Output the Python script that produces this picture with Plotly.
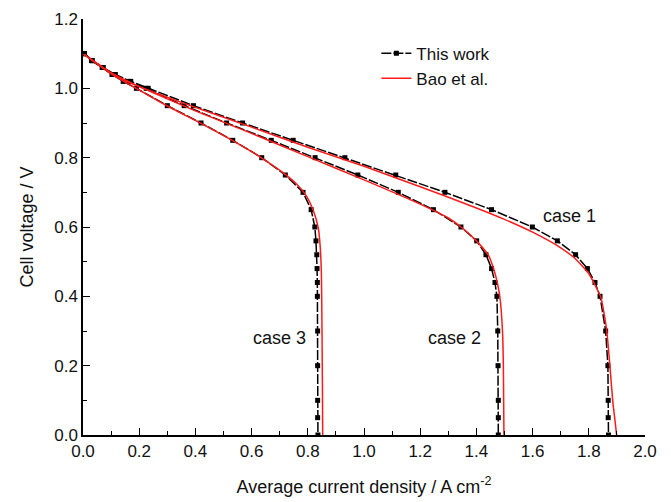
import plotly.graph_objects as go

# Cell voltage grid used for the simulated polarisation curves (V)
v_sim = [1.10, 1.08, 1.06, 1.04, 1.02, 1.00, 0.95, 0.90, 0.85, 0.80, 0.75, 0.70,
         0.65, 0.60, 0.56, 0.52, 0.48, 0.44, 0.40, 0.30, 0.20, 0.10, 0.05, 0.00]

# This work: average current density (A cm-2) at each voltage
i_case1 = [0.005, 0.033, 0.072, 0.115, 0.170, 0.232, 0.393, 0.568, 0.748, 0.932, 1.113, 1.288,
           1.454, 1.599, 1.688, 1.753, 1.795, 1.822, 1.840, 1.860, 1.868, 1.869, 1.869, 1.870]
i_case2 = [0.005, 0.032, 0.070, 0.110, 0.165, 0.225, 0.360, 0.511, 0.670, 0.826, 0.978, 1.122,
           1.247, 1.345, 1.401, 1.434, 1.454, 1.466, 1.473, 1.476, 1.477, 1.478, 1.478, 1.478]
i_case3 = [0.005, 0.030, 0.068, 0.103, 0.143, 0.190, 0.300, 0.420, 0.533, 0.636, 0.720, 0.783,
           0.812, 0.825, 0.829, 0.832, 0.833, 0.834, 0.834, 0.835, 0.835, 0.835, 0.835, 0.836]

# Bao et al. reference curves
bao1_i = [0.0, 0.1, 0.2, 0.4, 0.6, 0.8, 1.0, 1.2, 1.4, 1.5, 1.6, 1.7, 1.75, 1.8, 1.83,
          1.842, 1.85, 1.864, 1.875, 1.885, 1.892, 1.899]
bao1_v = [1.10, 1.045, 1.005, 0.945, 0.888, 0.830, 0.775, 0.716, 0.655, 0.622, 0.585, 0.540,
          0.510, 0.465, 0.420, 0.400, 0.370, 0.300, 0.200, 0.100, 0.050, 0.000]
bao2_i = [0.0, 0.1, 0.2, 0.4, 0.6, 0.8, 1.0, 1.2, 1.3, 1.35, 1.40, 1.443, 1.461, 1.475,
          1.484, 1.493, 1.496, 1.498]
bao2_v = [1.10, 1.043, 1.005, 0.935, 0.870, 0.803, 0.736, 0.666, 0.626, 0.597, 0.560, 0.518,
          0.480, 0.437, 0.396, 0.297, 0.197, 0.000]
bao3_i = [0.0, 0.1, 0.2, 0.3, 0.42, 0.533, 0.636, 0.72, 0.765, 0.795, 0.82, 0.837, 0.843,
          0.848, 0.850, 0.852, 0.853]
bao3_v = [1.10, 1.042, 0.995, 0.949, 0.899, 0.849, 0.799, 0.752, 0.720, 0.690, 0.647, 0.598,
          0.556, 0.477, 0.350, 0.150, 0.000]

case_labels = ["case 1", "case 2", "case 3"]
label_x = [1.733, 1.321, 0.699]
label_y = [0.633, 0.279, 0.279]

FONT = "Liberation Sans, Arial, sans-serif"
GREY = "#a8a8a8"
INK = "#111111"

fig = go.Figure()

sim_style = dict(mode="lines+markers",
                 line=dict(color="black", width=1.5, dash="10px,2px"),
                 marker=dict(symbol="square", size=5, color="black"))
for k, ii in enumerate([i_case1, i_case2, i_case3]):
    fig.add_trace(go.Scatter(x=ii, y=v_sim, name="This work", showlegend=(k == 0),
                             legendrank=1, **sim_style))

bao_style = dict(mode="lines", line=dict(color="#ff1a1a", width=1.5, shape="spline", smoothing=0.6))
for k, (ii, vv) in enumerate([(bao1_i, bao1_v), (bao2_i, bao2_v), (bao3_i, bao3_v)]):
    fig.add_trace(go.Scatter(x=ii, y=vv, name="Bao et al.", showlegend=(k == 0),
                             legendrank=2, **bao_style))

for txt, lx, ly in zip(case_labels, label_x, label_y):
    fig.add_annotation(x=lx, y=ly, text=txt, showarrow=False,
                       font=dict(family=FONT, size=18, color=INK))


def tick_style(color):
    return dict(ticks="inside", ticklen=7, tickwidth=1.3, tickcolor=color,
                minor=dict(ticks="inside", ticklen=4, tickwidth=1.3, dtick=0.1, tickcolor=color))


fig.update_layout(
    width=671, height=502,
    margin=dict(l=83, r=26, t=19, b=67),
    paper_bgcolor="white", plot_bgcolor="white",
    font=dict(family=FONT, size=17, color=INK),
    showlegend=True,
    legend=dict(x=0.522, y=0.96, xanchor="left", yanchor="top",
                bgcolor="rgba(0,0,0,0)", font=dict(size=17), tracegroupgap=0),
    xaxis=dict(range=[0, 2.0], dtick=0.2, tickformat=".1f", showgrid=False, zeroline=False,
               showline=True, linecolor="black", linewidth=1.5, automargin=False,
               title=dict(text="Average current density / A cm<sup>-2</sup>", font=dict(size=18),
                          standoff=20),
               **tick_style("black")),
    yaxis=dict(range=[0, 1.2], dtick=0.2, tickformat=".1f", showgrid=False, zeroline=False,
               showline=True, linecolor="black", linewidth=1.5, automargin=False,
               title=dict(text="Cell voltage / V", font=dict(size=18), standoff=16),
               **tick_style("black")),
    xaxis2=dict(range=[0, 2.0], dtick=0.2, overlaying="x", side="top", anchor="y",
                showticklabels=False, showgrid=False, zeroline=False, showline=True,
                linecolor=GREY, linewidth=1.5, **tick_style(GREY)),
    yaxis2=dict(range=[0, 1.2], dtick=0.2, overlaying="y", side="right", anchor="x",
                showticklabels=False, showgrid=False, zeroline=False, showline=True,
                linecolor=GREY, linewidth=1.5, **tick_style(GREY)),
)

fig.write_html("out.html")
